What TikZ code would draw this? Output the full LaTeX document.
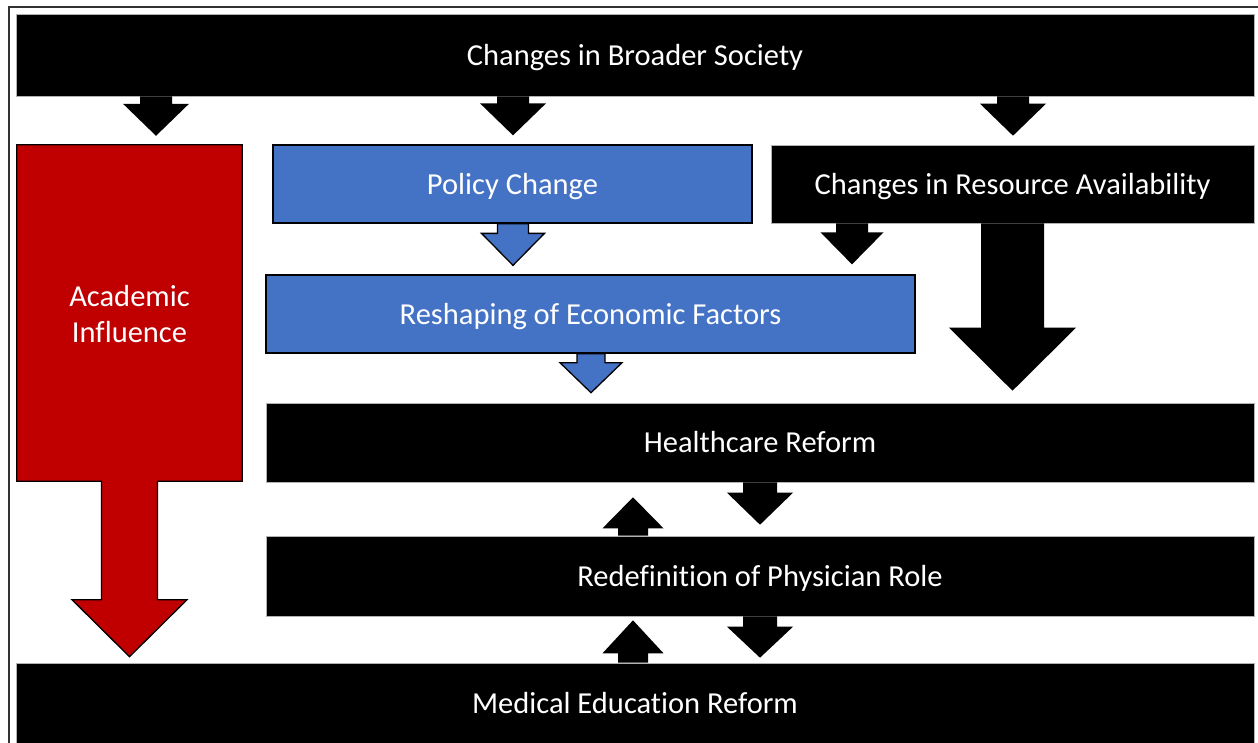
\documentclass[tikz,border=0pt]{standalone}
\usepackage{fontspec}
\setmainfont{Carlito}[Ligatures=NoCommon]
\usetikzlibrary{calc}
\definecolor{pblue}{HTML}{4472C4}
\definecolor{pred}{HTML}{C00000}

% Vertical block arrow from a source anchor to a target anchor at x-position #2.
% #1 style, #2 x coordinate, #3 source anchor, #4 target anchor,
% #5 gap to target (signed), #6 stem half width, #7 head half width, #8 head length (signed)
\newcommand\blk[8]{%
  \path[#1] let \p1=(#3 -| #2), \p2=(#4 -| #2) in
    (\x1-#6,\y1) -- (\x1-#6,\y2+#5+#8) -- (\x1-#7,\y2+#5+#8) -- (\x1,\y2+#5)
    -- (\x1+#7,\y2+#5+#8) -- (\x1+#6,\y2+#5+#8) -- (\x1+#6,\y1) -- cycle;}

\begin{document}
\begin{tikzpicture}[x=1pt,y=-1pt,
  box/.style={rectangle,inner sep=0pt,text=white,text height=24pt,text depth=4pt,
    font=\fontsize{30.5}{36}\selectfont,align=center},
  blackbox/.style={box,fill=black,draw=gray!60,line width=0.6pt},
  bluebox/.style={box,fill=pblue,draw=black,line width=1.3pt},
  redbox/.style={box,fill=pred},
  blackarrow/.style={fill=black},
  bluearrow/.style={fill=pblue,draw=black,line width=1.3pt,line join=miter},
  redarrow/.style={fill=pred},
  redoutline/.style={draw=black,line width=1.3pt,line join=miter}]
\useasboundingbox (0,0) rectangle (1258,742);
\clip (0,0) rectangle (1258,742);

% outer frame
\draw[line width=1.5pt,black!80] (9,7) rectangle (1290,780);

% boxes
\node[blackbox,minimum width=1238pt,minimum height=82pt] (society) at (635,55) {Changes in Broader Society};
\node[redbox,minimum width=225pt,minimum height=336pt] (acad) at (129.5,313) {};
\node[bluebox,minimum width=479pt,minimum height=78pt] (policy) at (512.5,184) {Policy Change};
\node[blackbox,minimum width=483pt,minimum height=78pt] (resource) at (1012.5,184) {Changes in Resource Availability};
\node[bluebox,minimum width=649pt,minimum height=78pt] (econ) at (590.5,314) {Reshaping of Economic Factors};
\node[blackbox,minimum width=988pt,minimum height=79pt] (health) at (760,442.5) {Healthcare Reform};
\node[blackbox,minimum width=988pt,minimum height=80pt] (redef) at (760,576) {Redefinition of Physician Role};
\node[blackbox,minimum width=1238pt,minimum height=80pt] (medical) at (635,703) {Medical Education Reform};

% x positions of the arrows
\coordinate (xa) at (156,0);
\coordinate (xb) at (513,0);
\coordinate (xc) at (1013,0);
\coordinate (xd) at (852,0);
\coordinate (xe) at (1012.5,0);
\coordinate (xf) at (591,0);
\coordinate (xg) at (760,0);
\coordinate (xh) at (633,0);
\coordinate (xr) at (129.5,0);

% arrows from the broader society
\blk{blackarrow}{xa}{society.south}{acad.north}{9pt}{16pt}{33pt}{32pt}
\blk{blackarrow}{xb}{society.south}{policy.north}{9pt}{16pt}{33pt}{32pt}
\blk{blackarrow}{xc}{society.south}{resource.north}{9pt}{16pt}{33pt}{32pt}

% policy and resources into economic factors
\blk{bluearrow}{xb}{policy.south}{econ.north}{9pt}{15.5pt}{31.5pt}{32pt}
\blk{blackarrow}{xd}{resource.south}{econ.north}{10pt}{16pt}{31.5pt}{32pt}

% resources and economics into healthcare reform
\blk{blackarrow}{xe}{resource.south}{health.north}{12pt}{31.5pt}{63.5pt}{63pt}
\blk{bluearrow}{xf}{econ.south}{health.north}{10pt}{14pt}{31pt}{30pt}

% two-way links between the lower bars
\blk{blackarrow}{xg}{health.south}{redef.north}{11pt}{17pt}{33pt}{32pt}
\blk{blackarrow}{xh}{redef.north}{health.south}{-15pt}{15pt}{30.5pt}{-31pt}
\blk{blackarrow}{xg}{redef.south}{medical.north}{5pt}{17pt}{33pt}{31pt}
\blk{blackarrow}{xh}{medical.north}{redef.south}{-4pt}{15pt}{30.5pt}{-33pt}

% academic influence: the box continues as a block arrow
\blk{redarrow}{xr}{acad.south}{medical.north}{6pt}{28pt}{57.5pt}{57pt}
\path[redoutline] let \p1=(acad.south -| xr), \p2=(medical.north -| xr) in
  (acad.north west) -- (acad.north east) -- (acad.south east)
  -- (\x1+28pt,\y1) -- (\x1+28pt,\y2+63pt) -- (\x1+57.5pt,\y2+63pt) -- (\x1,\y2+6pt)
  -- (\x1-57.5pt,\y2+63pt) -- (\x1-28pt,\y2+63pt) -- (\x1-28pt,\y1)
  -- (acad.south west) -- cycle;
\node[box,yshift=-19pt] (acadtext) at (acad.center) {Academic\\Influence};
\end{tikzpicture}
\end{document}
